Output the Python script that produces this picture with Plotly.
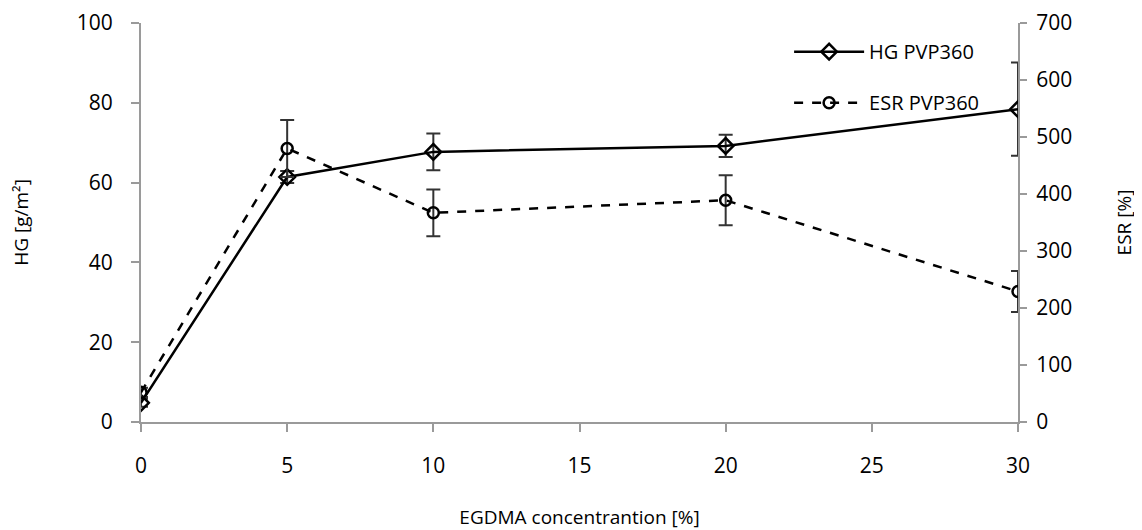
import plotly.graph_objects as go

conc = [0, 5, 10, 20, 30]
hg = [4.8, 61.4, 67.7, 69.2, 78.4]
hg_err = [1.0, 1.5, 4.6, 2.8, 11.7]
esr = [52, 480, 367, 389, 229]
esr_err = [8, 50, 41, 44, 36]

x_ticks = [0, 5, 10, 15, 20, 25, 30]
hg_ticks = [0, 20, 40, 60, 80, 100]
esr_ticks = [0, 100, 200, 300, 400, 500, 600, 700]

FONT = "Open Sans"
AX = "#9a9a9a"

fig = go.Figure()
fig.add_trace(go.Scatter(
    x=conc, y=hg, name="HG PVP360", mode="lines+markers", legendgroup="a",
    line=dict(color="black", width=2.5),
    marker=dict(symbol="diamond-open", size=12, color="black", line=dict(width=2.5)),
    error_y=dict(type="data", array=hg_err, color="#333333", thickness=2, width=7),
))
fig.add_trace(go.Scatter(
    x=conc, y=esr, name="ESR PVP360", mode="lines+markers", legendgroup="b", yaxis="y2",
    line=dict(color="black", width=2.5, dash="dash"),
    marker=dict(symbol="circle-open", size=11, color="black", line=dict(width=2.5)),
    error_y=dict(type="data", array=esr_err, color="#333333", thickness=2, width=7),
))

fig.update_layout(
    width=1134, height=522,
    paper_bgcolor="white", plot_bgcolor="white",
    margin=dict(l=133, r=124, t=15, b=108),
    font=dict(family=FONT, size=20, color="black"),
    xaxis=dict(range=[0, 30], tickvals=x_ticks, showgrid=False, zeroline=False,
               showline=True, linecolor=AX, linewidth=2, ticks="outside", ticklen=8,
               tickcolor=AX, tickwidth=2, ticklabelstandoff=16, automargin=False,
               tickfont=dict(size=21),
               title=dict(text="EGDMA concentrantion [%]", font=dict(size=19), standoff=34)),
    yaxis=dict(range=[0, 100], tickvals=hg_ticks, showgrid=False, zeroline=False,
               showline=True, linecolor=AX, linewidth=2, ticks="outside", ticklen=8,
               tickcolor=AX, tickwidth=2, ticklabelstandoff=14, automargin=False,
               tickfont=dict(size=21),
               title=dict(text="HG [g/m²]", font=dict(size=19), standoff=44)),
    yaxis2=dict(range=[0, 700], tickvals=esr_ticks, overlaying="y", side="right",
                showgrid=False, zeroline=False, showline=True, linecolor=AX, linewidth=2,
                ticks="outside", ticklen=7, tickcolor=AX, tickwidth=2, automargin=False,
                ticklabelstandoff=5, tickfont=dict(size=21),
                title=dict(text="ESR [%]", font=dict(size=19), standoff=46)),
    legend=dict(x=0.739, y=0.977, xanchor="left", yanchor="top", bgcolor="rgba(0,0,0,0)",
                font=dict(size=20), itemwidth=70, tracegroupgap=22),
    showlegend=True,
)

fig.write_html("out.html")
